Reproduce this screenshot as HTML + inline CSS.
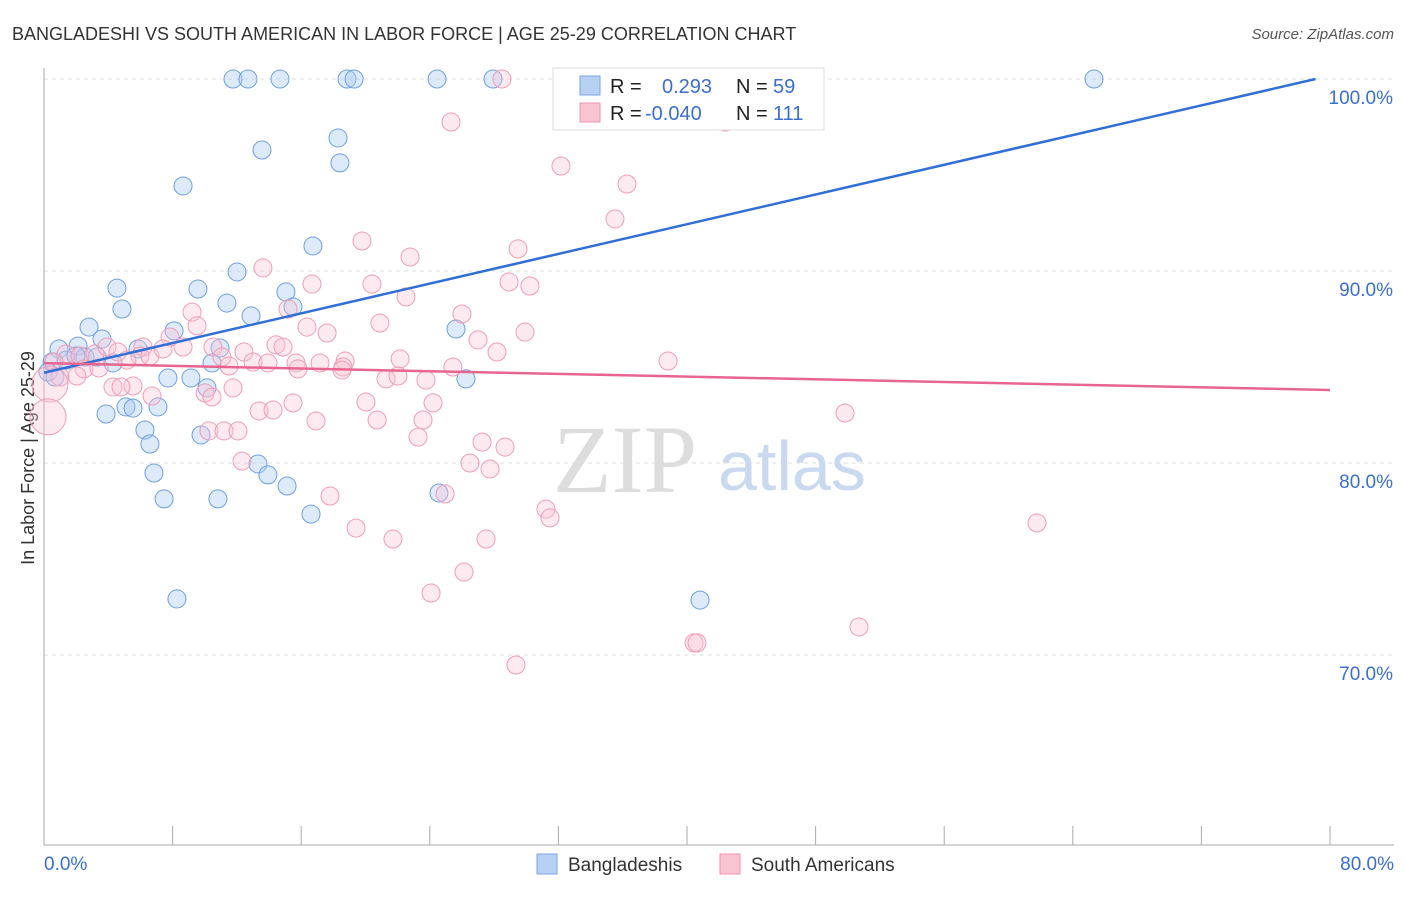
<!DOCTYPE html>
<html><head><meta charset="utf-8"><style>
body{margin:0;background:#fff;font-family:"Liberation Sans",sans-serif}
svg text{font-family:"Liberation Sans",sans-serif}
</style></head><body>
<svg id="chart" width="1406" height="892" xmlns="http://www.w3.org/2000/svg">
<text x="12" y="40" font-size="18" fill="#333">BANGLADESHI VS SOUTH AMERICAN IN LABOR FORCE | AGE 25-29 CORRELATION CHART</text>
<text x="1394" y="39" font-size="15" fill="#555" font-style="italic" text-anchor="end">Source: ZipAtlas.com</text>
<text x="34" y="458" font-size="18" fill="#333" text-anchor="middle" transform="rotate(-90 34 458)">In Labor Force | Age 25-29</text>
<g id="grid"></g>
<g><text x="553" y="492" font-size="96" fill="#ddd" style="font-family:'Liberation Serif',serif">ZIP</text><text x="718" y="490" font-size="70" fill="#c9d9ef">atlas</text></g>
<g id="marks"></g>
<g>
<rect x="553" y="68" width="271" height="62" fill="#fff" stroke="#ddd"/>
<rect x="580" y="76" width="20" height="19" fill="#b8d0f2" stroke="#7aa6e6"/>
<rect x="580" y="103" width="20" height="19" fill="#f9c4d2" stroke="#ee93ad"/>
<text x="610" y="93" font-size="20" fill="#222">R =</text><text x="662" y="93" font-size="20" fill="#3a6fd0">0.293</text>
<text x="736" y="93" font-size="20" fill="#222">N =</text><text x="773" y="93" font-size="20" fill="#3a6fd0">59</text>
<text x="610" y="120" font-size="20" fill="#222">R =</text><text x="645" y="120" font-size="20" fill="#3a6fd0">-0.040</text>
<text x="736" y="120" font-size="20" fill="#222">N =</text><text x="773" y="120" font-size="20" fill="#3a6fd0">111</text>
</g>
<g>
<rect x="537" y="854" width="20" height="20" fill="#b8d0f2" stroke="#7aa6e6"/>
<text x="568" y="871" font-size="19" fill="#333">Bangladeshis</text>
<rect x="720" y="854" width="20" height="20" fill="#f9c4d2" stroke="#ee93ad"/>
<text x="751" y="871" font-size="19" fill="#333">South Americans</text>
</g>
</svg>
<script>
const blueX=[11.76,12.69,14.68,18.85,19.29,24.45,27.93,65.32,13.56,18.29,18.41,8.65,16.73,12.01,4.54,9.58,15.05,11.38,4.85,12.88,15.49,2.80,8.09,25.63,3.61,0.93,2.12,5.85,10.95,10.45,4.29,0.50,1.37,2.55,3.30,0.25,0.68,7.71,9.14,10.14,26.25,3.86,5.10,5.54,7.09,6.28,9.77,6.59,6.84,13.31,13.93,15.12,7.47,10.82,24.57,16.61,8.27,40.81,1.99];
const blueY=[100,100,100,100,100,100,100,100,96.30,96.93,95.63,94.43,91.30,89.95,89.11,89.06,88.91,88.33,88.02,87.66,88.13,87.08,86.88,86.98,86.46,85.94,86.09,85.94,85.99,85.21,85.21,85.26,85.36,85.52,85.52,84.74,84.48,84.43,84.43,83.91,84.38,82.55,82.92,82.86,82.92,81.72,81.46,80.99,79.48,79.95,79.38,78.80,78.13,78.13,78.44,77.34,72.92,72.86,85.57];
const pinkX=[28.49,32.60,38.13,25.32,42.37,32.16,36.27,35.52,19.78,29.49,13.62,22.77,16.67,20.40,28.93,30.23,22.52,9.21,15.18,26.00,9.52,20.90,29.92,16.36,17.61,27.00,28.18,38.82,7.84,6.16,8.65,10.51,12.44,14.43,14.87,5.97,6.59,7.40,11.07,15.68,17.17,18.73,18.60,22.15,25.44,1.37,2.24,3.17,3.92,4.60,5.16,2.49,3.42,0.62,1.00,2.05,11.51,13.00,13.93,15.80,18.54,21.28,22.02,23.76,4.29,5.54,4.79,6.72,10.02,10.45,11.76,15.49,20.03,24.20,23.58,13.38,14.25,16.92,20.72,10.26,11.20,12.07,23.27,27.25,28.68,26.50,27.75,12.32,17.79,24.95,31.23,31.48,19.41,21.71,27.50,49.83,61.77,26.13,24.08,40.44,40.62,50.70,29.36,0.37,0.25];
const pinkY=[100,100,100,97.76,97.76,95.47,94.53,92.71,91.56,91.15,90.16,90.73,89.32,89.32,89.43,89.22,88.65,87.86,88.02,87.76,87.14,87.29,86.82,87.08,86.77,86.41,85.78,85.31,86.56,86.04,86.04,86.04,85.78,86.15,86.04,85.57,85.57,85.94,85.52,85.21,85.21,85.31,85.00,85.42,85.00,85.68,85.57,85.68,86.04,85.78,85.36,84.90,84.95,85.26,84.48,84.53,85.05,85.26,85.21,84.90,84.84,84.38,84.53,84.32,83.96,84.01,83.96,83.49,83.65,83.44,83.91,83.13,83.18,83.13,82.24,82.71,82.76,82.19,82.24,81.67,81.67,81.67,81.35,81.09,80.83,80.00,79.69,80.10,78.28,78.39,77.60,77.14,76.61,76.04,76.04,82.60,76.88,74.32,73.23,70.63,70.63,71.46,69.48,84.11,82.40];
const blueTrend=[[0,84.7],[79.1,100]];
const pinkTrend=[[0,85.2],[80,83.8]];
const yTicks=[100,90,80,70];
const xTickVals=[0,8,16,24,32,40,48,56,64,72,80];
const NS='http://www.w3.org/2000/svg';
const sx=v=>44+v/80*1286;
const sy=v=>79+(100-v)*19.2;
function mk(t,a,p){const e=document.createElementNS(NS,t);for(const k in a)e.setAttribute(k,a[k]);p.appendChild(e);return e;}
const grid=document.getElementById('grid'),marks=document.getElementById('marks');
yTicks.forEach(v=>{
 const l=mk('line',{x1:44,x2:1394,y1:sy(v),y2:sy(v),stroke:'#ddd','stroke-dasharray':'4,4'},grid);
 
 
 const t=mk('text',{x:1393,y:sy(v)+25,'font-size':19,fill:'#3a6fd0','text-anchor':'end'},grid);
 t.textContent=v.toFixed(1)+'%';
 
 
});
const ya=mk('line',{x1:44,x2:44,y1:68,y2:845,stroke:'#aaa'},grid);


const xa=mk('line',{x1:44,x2:1394,y1:845,y2:845,stroke:'#aaa'},grid);


xTickVals.forEach(v=>{
 const l=mk('line',{x1:sx(v),x2:sx(v),y1:826,y2:845,stroke:'#aaa'},grid);
 
 
});
[[0,'start'],[80,'end']].forEach(([v,a])=>{
 const t=mk('text',{x:sx(v)+(a==='end'?64:0),y:870,'font-size':19,fill:'#3a6fd0','text-anchor':a},grid);
 t.textContent=v.toFixed(1)+'%';
 
 
});
blueX.forEach((x,i)=>{
 const c=mk('circle',{cx:sx(x),cy:sy(blueY[i]),r:9,fill:'rgba(170,202,242,0.4)',stroke:'#6f9fe0','stroke-width':1},marks);
 
 
});
pinkX.forEach((x,i)=>{
 const big=i>=pinkX.length-2;
 const c=mk('circle',{cx:sx(x),cy:sy(pinkY[i]),r:big?18:9,fill:'rgba(248,196,212,0.35)',stroke:'#ee9db5','stroke-width':1},marks);
 
 
});
const bl=mk('line',{x1:sx(blueTrend[0][0]),y1:sy(blueTrend[0][1]),x2:sx(blueTrend[1][0]),y2:sy(blueTrend[1][1]),stroke:'#2f6fd6','stroke-width':2.5},marks);


const pl=mk('line',{x1:sx(pinkTrend[0][0]),y1:sy(pinkTrend[0][1]),x2:sx(pinkTrend[1][0]),y2:sy(pinkTrend[1][1]),stroke:'#e8658f','stroke-width':2.5},marks);


</script>
</body></html>
